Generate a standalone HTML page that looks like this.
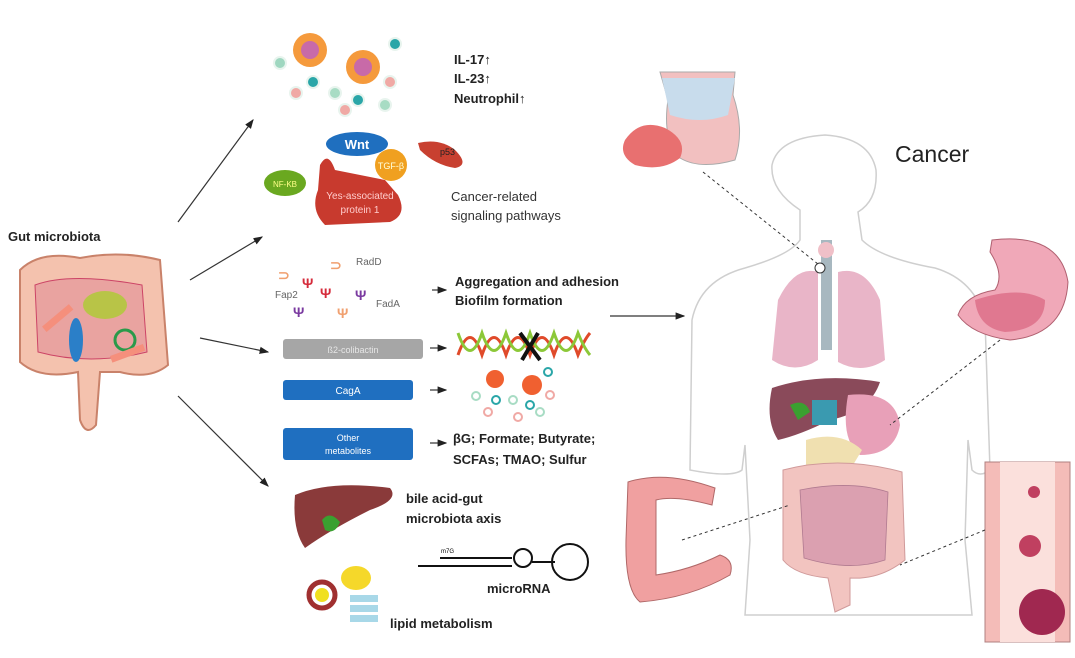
<!DOCTYPE html>
<html><head><meta charset="utf-8"><style>
html,body{margin:0;padding:0;background:#fff;}
svg{display:block;}
text{font-family:"Liberation Sans",sans-serif;}
.b{font-weight:bold;fill:#222;font-size:13px;}
</style></head><body>
<svg width="1075" height="658" viewBox="0 0 1075 658" xmlns="http://www.w3.org/2000/svg">
<defs><marker id="a" markerWidth="8" markerHeight="8" refX="7" refY="4" orient="auto"><path d="M0,1 L8,4 L0,7z" fill="#222"/></marker></defs>
<rect width="1075" height="658" fill="#fff"/>

<!-- gut microbiota -->
<text x="8" y="241" class="b" font-size="12">Gut microbiota</text>
<path d="M20,270 Q40,250 80,258 Q120,250 160,260 L168,365 Q150,380 120,372 L100,372 L96,425 Q86,437 80,420 L78,372 Q40,380 20,362 Z" fill="#f4c2ae" stroke="#c9826a" stroke-width="2"/>
<path d="M35,285 Q70,272 142,285 L147,352 Q90,366 38,352 Z" fill="#e9a3a0" stroke="#c46" stroke-width="1"/>
<ellipse cx="105" cy="305" rx="22" ry="14" fill="#b8c447"/>
<ellipse cx="76" cy="340" rx="7" ry="22" fill="#2b7fc8"/>
<circle cx="125" cy="340" r="10" fill="none" stroke="#2a9a4a" stroke-width="3"/>
<rect x="40" y="315" width="35" height="7" fill="#f58f7c" transform="rotate(-40 57 318)"/>
<rect x="110" y="350" width="35" height="7" fill="#f58f7c" transform="rotate(-20 127 353)"/>

<g stroke="#333" stroke-width="1.2" marker-end="url(#a)">
<line x1="178" y1="222" x2="253" y2="120"/>
<line x1="190" y1="280" x2="262" y2="237"/>
<line x1="200" y1="338" x2="268" y2="352"/>
<line x1="178" y1="396" x2="268" y2="486"/>
<line x1="432" y1="290" x2="446" y2="290"/>
<line x1="430" y1="348" x2="446" y2="348"/>
<line x1="430" y1="390" x2="446" y2="390"/>
<line x1="430" y1="443" x2="446" y2="443"/>
<line x1="610" y1="316" x2="684" y2="316"/>
</g>

<!-- immune cells -->
<circle cx="310" cy="50" r="17" fill="#f59a3c"/><circle cx="310" cy="50" r="9" fill="#c86aa8"/>
<circle cx="363" cy="67" r="17" fill="#f59a3c"/><circle cx="363" cy="67" r="9" fill="#c86aa8"/>
<g stroke="#e8f4ee" stroke-width="2">
<circle cx="280" cy="63" r="6" fill="#9fd7c0"/><circle cx="313" cy="82" r="6" fill="#2aa6a8"/>
<circle cx="296" cy="93" r="6" fill="#f0a9a5"/><circle cx="335" cy="93" r="6" fill="#a8dcc4"/>
<circle cx="358" cy="100" r="6" fill="#2aa6a8"/><circle cx="345" cy="110" r="6" fill="#f0a9a5"/>
<circle cx="385" cy="105" r="6" fill="#a8dcc4"/><circle cx="390" cy="82" r="6" fill="#f0a9a5"/>
<circle cx="395" cy="44" r="6" fill="#2aa6a8"/>
</g>
<text x="454" y="64" class="b">IL-17↑</text>
<text x="454" y="83" class="b">IL-23↑</text>
<text x="454" y="103" class="b">Neutrophil↑</text>

<!-- signaling -->
<path d="M320,165 Q328,150 335,170 L385,180 L398,195 Q408,215 390,222 L325,225 Q310,210 318,190 Z" fill="#c83a2e"/>
<ellipse cx="357" cy="144" rx="31" ry="12" fill="#1f6fbf"/>
<text x="357" y="149" text-anchor="middle" fill="#fff" font-size="13" font-weight="bold">Wnt</text>
<circle cx="391" cy="165" r="16" fill="#f0a020"/>
<text x="391" y="169" text-anchor="middle" fill="#ffd" font-size="9">TGF-β</text>
<path d="M418,143 Q440,138 455,150 Q470,165 455,168 Q435,165 420,150 Z" fill="#c84030"/>
<text x="440" y="155" font-size="9" fill="#222">p53</text>
<ellipse cx="285" cy="183" rx="21" ry="13" fill="#6aa820"/>
<text x="285" y="187" text-anchor="middle" fill="#ff8" font-size="8">NF-KB</text>
<text x="360" y="199" text-anchor="middle" fill="#fcc" font-size="10">Yes-associated</text>
<text x="360" y="213" text-anchor="middle" fill="#fcc" font-size="10">protein 1</text>
<text x="451" y="201" fill="#333" font-size="13">Cancer-related</text>
<text x="451" y="220" fill="#333" font-size="13">signaling pathways</text>

<!-- adhesins -->
<g font-size="14" font-weight="bold">
<text x="330" y="270" fill="#f0a070">⊃</text>
<text x="278" y="280" fill="#f0a070">⊃</text>
<text x="302" y="288" fill="#d52b3b">Ψ</text>
<text x="320" y="298" fill="#d52b3b">Ψ</text>
<text x="355" y="300" fill="#7a3aa0">Ψ</text>
<text x="293" y="317" fill="#7a3aa0">Ψ</text>
<text x="337" y="318" fill="#f0a070">Ψ</text>
</g>
<text x="356" y="265" font-size="10" fill="#666">RadD</text>
<text x="275" y="298" font-size="10" fill="#666">Fap2</text>
<text x="376" y="307" font-size="10" fill="#666">FadA</text>
<text x="455" y="286" class="b" fill="#333">Aggregation and adhesion</text>
<text x="455" y="305" class="b" fill="#333">Biofilm formation</text>

<rect x="283" y="339" width="140" height="20" rx="3" fill="#a6a6a6"/>
<text x="353" y="353" text-anchor="middle" fill="#e6e6e6" font-size="9">ß2-colibactin</text>
<rect x="283" y="380" width="130" height="20" rx="3" fill="#1f6fc0"/>
<text x="348" y="394" text-anchor="middle" fill="#fff" font-size="10">CagA</text>
<rect x="283" y="428" width="130" height="32" rx="3" fill="#1f6fc0"/>
<text x="348" y="441" text-anchor="middle" fill="#fff" font-size="9">Other</text>
<text x="348" y="454" text-anchor="middle" fill="#fff" font-size="9">metabolites</text>

<!-- DNA -->
<g stroke-width="3" fill="none">
<path d="M458,355 Q470,320 482,355 Q494,320 506,355 Q518,320 530,355 Q542,320 554,355 Q566,320 578,355 Q584,340 590,333" stroke="#e04a2a"/>
<path d="M458,333 Q470,368 482,333 Q494,368 506,333 Q518,368 530,333 Q542,368 554,333 Q566,368 578,333 Q584,348 590,355" stroke="#8cc838"/>
<path d="M520,333 L540,360 M538,333 L522,360" stroke="#111" stroke-width="4"/>
</g>
<circle cx="495" cy="379" r="9" fill="#f06030"/><circle cx="532" cy="385" r="10" fill="#f06030"/>
<g stroke-width="2" fill="none">
<circle cx="476" cy="396" r="4" stroke="#a8dcc4"/><circle cx="496" cy="400" r="4" stroke="#2aa6a8"/>
<circle cx="513" cy="400" r="4" stroke="#a8dcc4"/><circle cx="530" cy="405" r="4" stroke="#2aa6a8"/>
<circle cx="488" cy="412" r="4" stroke="#f0a9a5"/><circle cx="518" cy="417" r="4" stroke="#f0a9a5"/>
<circle cx="540" cy="412" r="4" stroke="#a8dcc4"/><circle cx="550" cy="395" r="4" stroke="#f0a9a5"/>
<circle cx="548" cy="372" r="4" stroke="#2aa6a8"/>
</g>
<text x="453" y="443" class="b" fill="#333">βG; Formate; Butyrate;</text>
<text x="453" y="464" class="b" fill="#333">SCFAs; TMAO; Sulfur</text>

<!-- liver -->
<path d="M295,495 Q330,480 390,488 Q400,500 370,510 Q330,530 305,548 Q292,530 295,495 Z" fill="#8a3a3a"/>
<path d="M322,520 Q330,510 340,522 Q335,535 325,530 Z" fill="#3aa030"/>
<text x="406" y="503" class="b" font-size="12">bile acid-gut</text>
<text x="406" y="523" class="b" font-size="12">microbiota axis</text>
<g stroke="#111" stroke-width="2" fill="none">
<line x1="418" y1="566" x2="512" y2="566"/><line x1="440" y1="558" x2="512" y2="558"/>
<circle cx="523" cy="558" r="9"/><line x1="532" y1="562" x2="555" y2="562"/>
<circle cx="570" cy="562" r="18"/>
</g>
<text x="441" y="553" font-size="6">m7G</text>
<text x="487" y="593" class="b" font-size="12">microRNA</text>
<circle cx="322" cy="595" r="13" fill="none" stroke="#a03030" stroke-width="5"/>
<circle cx="322" cy="595" r="7" fill="#f0e020"/>
<ellipse cx="356" cy="578" rx="15" ry="12" fill="#f5d82a"/>
<rect x="350" y="595" width="28" height="7" fill="#a8d8e8"/><rect x="350" y="605" width="28" height="7" fill="#a8d8e8"/><rect x="350" y="615" width="28" height="7" fill="#a8d8e8"/>
<text x="390" y="628" class="b" font-size="12">lipid metabolism</text>

<!-- body outline -->
<text x="895" y="162" font-size="23" fill="#222">Cancer</text>
<path d="M800,210 Q770,190 772,165 Q778,138 825,135 Q870,138 876,170 Q878,200 858,212 L862,240 Q880,258 935,268 Q975,280 985,320 L990,470 Q980,478 972,470 L968,440 L965,540 L972,615 L745,615 L750,540 L745,445 L742,470 Q732,478 690,470 L692,320 Q700,280 745,268 Q790,255 800,240 Z" fill="none" stroke="#cfcfcf" stroke-width="1.5"/>
<!-- lungs -->
<path d="M778,300 Q795,265 818,272 L818,360 Q795,375 772,360 Z" fill="#e9b5c8"/>
<path d="M838,272 Q865,265 880,300 L885,360 Q862,375 838,362 Z" fill="#e9b5c8"/>
<rect x="821" y="240" width="11" height="110" fill="#a8b8c0"/>
<circle cx="826" cy="250" r="8" fill="#f0c0c8"/>
<!-- liver, stomach -->
<path d="M772,388 Q820,372 880,382 Q870,412 830,420 Q800,435 778,440 Q765,420 772,388 Z" fill="#8a4a5a"/>
<path d="M790,405 Q805,398 810,412 L798,420 Z" fill="#3aa030"/>
<rect x="812" y="400" width="25" height="25" fill="#3a9ab0"/>
<path d="M848,395 Q895,390 900,425 Q895,455 860,455 Q840,440 848,395 Z" fill="#e8a0b8"/>
<path d="M806,440 Q840,430 862,450 L850,470 L806,468 Z" fill="#f0e0b0"/>
<!-- intestines -->
<path d="M783,470 Q840,455 902,472 L905,560 Q880,580 850,578 L850,605 L835,612 L828,578 Q795,575 783,560 Z" fill="#f2c4c0" stroke="#d09a9a"/>
<path d="M800,490 Q850,480 888,492 L885,560 Q850,572 804,558 Z" fill="#dba0b0" stroke="#b07a90" stroke-width="0.8"/>

<!-- thyroid -->
<path d="M660,72 L735,72 L733,95 Q745,130 735,160 Q700,170 680,158 Q662,140 668,100 Z" fill="#f2c0c0" stroke="#aaa"/>
<path d="M662,78 L735,78 L728,115 Q700,125 670,115 Z" fill="#c8dcec"/>
<path d="M625,140 Q640,118 665,128 Q688,140 680,158 Q662,172 635,165 Q618,155 625,140 Z" fill="#e87070"/>
<line x1="703" y1="172" x2="818" y2="264" stroke="#333" stroke-dasharray="3,3"/>
<circle cx="820" cy="268" r="5" fill="#fff" stroke="#333"/>

<!-- stomach -->
<path d="M992,240 Q1060,232 1068,282 Q1065,335 1010,340 Q972,335 958,315 Q965,295 995,290 Q1005,275 990,252 Z" fill="#f0a8b8" stroke="#b06070"/>
<path d="M975,300 Q1020,285 1045,300 Q1045,330 1005,332 Q978,328 975,300 Z" fill="#e07890"/>
<line x1="1000" y1="340" x2="890" y2="425" stroke="#333" stroke-dasharray="3,3"/>

<!-- colon left -->
<path d="M628,482 Q665,470 715,488 L712,505 Q675,495 656,500 L656,575 Q690,570 720,555 Q735,560 730,575 Q690,598 640,602 Q625,590 626,540 Z" fill="#f0a0a0" stroke="#b06868"/>
<line x1="682" y1="540" x2="790" y2="505" stroke="#333" stroke-dasharray="3,3"/>

<!-- intestine section -->
<rect x="985" y="462" width="85" height="180" fill="#f4bcb8" stroke="#b08080"/>
<rect x="1000" y="462" width="55" height="180" fill="#fbe0dc"/>
<circle cx="1034" cy="492" r="6" fill="#c04060"/>
<circle cx="1030" cy="546" r="11" fill="#c04060"/>
<circle cx="1042" cy="612" r="23" fill="#a02850"/>
<line x1="985" y1="530" x2="900" y2="565" stroke="#333" stroke-dasharray="3,3"/>
</svg>
</body></html>
